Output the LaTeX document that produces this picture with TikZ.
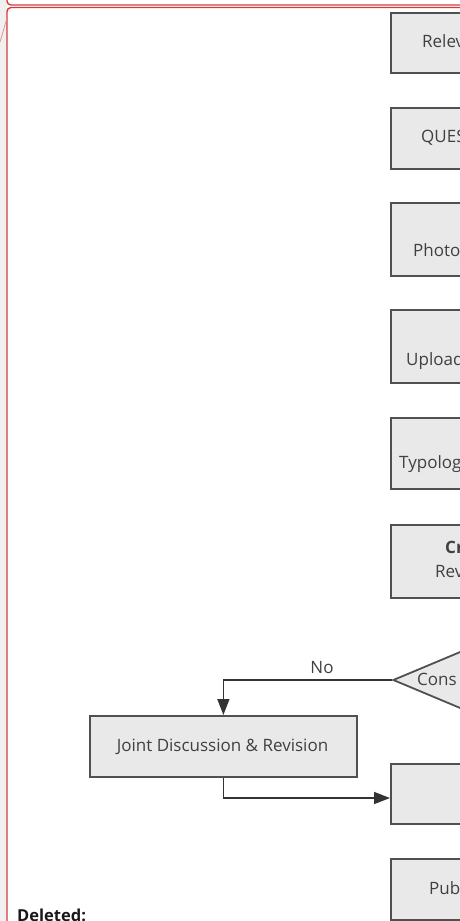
\documentclass[tikz,border=0pt]{standalone}
\usepackage{fontspec}
\setmainfont{Open Sans}
\usetikzlibrary{arrows.meta,shapes.geometric}
\definecolor{boxfill}{HTML}{E9E9E9}
\definecolor{boxline}{HTML}{505050}
\definecolor{txtc}{HTML}{404040}
\definecolor{conn}{HTML}{333333}
\definecolor{balloon}{HTML}{D63B3B}
\definecolor{strip}{HTML}{F0F0F0}
\tikzset{
  procbox/.style={draw=boxline, fill=boxfill, line width=1.8pt, inner sep=0pt, anchor=north west},
  lbl/.style={text=txtc, font=\fontsize{17}{20}\selectfont, inner sep=0pt, anchor=base west},
  conline/.style={draw=conn, line width=1.5pt, -{Triangle[length=16pt,width=12pt]}},
  redline/.style={draw=balloon, line width=1.4pt}
}
\begin{document}
\begin{tikzpicture}[x=1pt,y=-1pt]
\useasboundingbox (0,0) rectangle (460,921);
\clip (0,0) rectangle (460,921);
\fill[white] (0,0) rectangle (460,921);
\fill[strip] (0,0) rectangle (7,921);
% balloons
\draw[redline] (7,-5) -- (7,1) arc[start angle=180,end angle=90,radius=4] -- (470,5);
\draw[redline] (470,7.5) -- (11,7.5) arc[start angle=270,end angle=180,radius=4] -- (7,930);
\draw[balloon!60, line width=0.7pt] (0,42) -- (7,18);
% boxes
\node[procbox, minimum width=250pt, minimum height=60pt] (b1) at (390,12) {};
\node[procbox, minimum width=250pt, minimum height=61pt] (b2) at (390,107) {};
\node[procbox, minimum width=250pt, minimum height=73pt] (b3) at (390,202) {};
\node[procbox, minimum width=250pt, minimum height=73pt] (b4) at (390,309) {};
\node[procbox, minimum width=250pt, minimum height=71pt] (b5) at (390,417) {};
\node[procbox, minimum width=250pt, minimum height=73pt] (b6) at (390,524) {};
\node[draw=boxline, fill=boxfill, line width=1.8pt, diamond, inner sep=0pt, minimum width=240pt, minimum height=101pt] (d1) at (513,680) {};
\node[procbox, minimum width=267pt, minimum height=61pt] (jd) at (89,715) {};
\node[procbox, minimum width=250pt, minimum height=60pt] (b7) at (390,763) {};
\node[procbox, minimum width=250pt, minimum height=61pt] (b8) at (390,858) {};
% labels
\node[lbl] (t1) at (422,47) {Relev};
\node[lbl] (t2) at (421,142) {QUES};
\node[lbl] (t3) at (413,256) {Photo};
\node[lbl] (t4) at (406,365) {Upload};
\node[lbl] (t5) at (399,468) {Typolog};
\node[lbl, font=\fontsize{17}{20}\selectfont\bfseries] (t6a) at (445,553) {Cr};
\node[lbl] (t6b) at (435,577) {Rev};
\node[lbl] (td) at (417,685) {Cons};
\node[lbl] (t8) at (429,894) {Pub};
\node[lbl, anchor=base] (tj) at (222.5,751) {Joint Discussion \& Revision};
\node[lbl, anchor=base] (tno) at (322,673) {No};
% connectors
\coordinate (j7) at (390,798);
\draw[conline] (d1.west) -| (jd.north);
\draw[conline] (jd.south) |- (j7);
% deleted note
\node[inner sep=0pt, anchor=base west, font=\fontsize{16.5}{19}\selectfont\bfseries, text=black!90] (del) at (17,921) {Deleted:};
\end{tikzpicture}
\end{document}
